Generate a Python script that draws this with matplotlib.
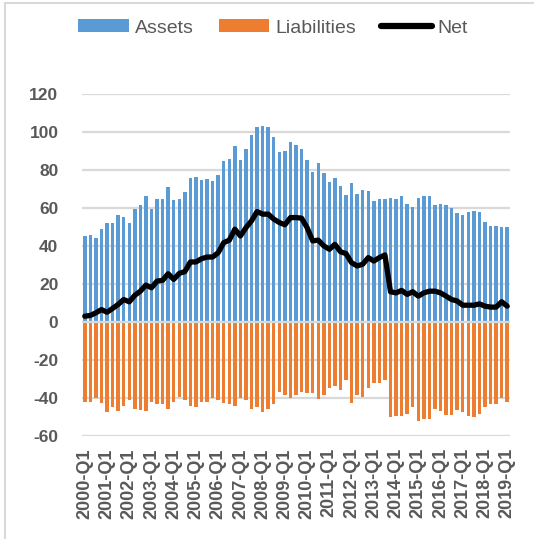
import matplotlib
matplotlib.use("Agg")
import matplotlib.pyplot as plt
from matplotlib.lines import Line2D
from matplotlib.patches import Patch
import numpy as np

# Quarterly categories, 2000-Q1 .. 2019-Q1
years = list(range(2000, 2020))
quarters = [f"{y}-Q{q}" for y in years for q in range(1, 5)][:77]

assets = [
    45.2, 45.7, 44.4, 49.2, 51.9, 51.9, 56.6, 55.4, 51.9, 59.5,
    61.6, 66.2, 59.5, 64.8, 64.8, 70.9, 64.2, 64.8, 68.3, 75.7,
    76.2, 75.0, 75.5, 74.4, 77.6, 84.7, 85.7, 92.6, 85.4, 91.4,
    98.8, 102.8, 103.5, 102.8, 97.4, 89.4, 90.0, 94.7, 93.3, 91.2,
    85.2, 79.2, 83.8, 78.3, 73.8, 75.7, 71.6, 66.9, 73.0, 67.6,
    69.7, 69.0, 63.5, 64.8, 64.8, 65.4, 64.8, 66.2, 61.9, 60.7,
    65.4, 66.2, 66.2, 61.4, 62.1, 61.4, 60.0, 57.4, 56.6, 58.0,
    58.7, 58.0, 52.6, 50.6, 50.6, 49.9, 49.9,
]

liabilities = [
    -42.1, -42.1, -40.2, -42.8, -47.6, -45.0, -46.9, -44.2, -41.4, -45.7,
    -46.2, -46.9, -42.1, -43.5, -43.5, -45.7, -42.1, -39.5, -41.4, -44.2,
    -45.0, -42.1, -42.1, -40.2, -41.4, -42.8, -43.5, -44.2, -40.2, -41.4,
    -45.7, -45.0, -47.6, -45.7, -43.5, -36.8, -38.3, -40.2, -38.8, -36.8,
    -37.5, -37.5, -40.9, -38.3, -34.7, -34.0, -36.1, -30.8, -42.8, -38.8,
    -39.5, -34.7, -32.1, -32.1, -30.8, -50.3, -49.6, -49.6, -48.3, -45.0,
    -52.2, -51.0, -51.0, -45.7, -46.9, -49.0, -49.0, -46.2, -47.6, -49.6,
    -50.3, -48.3, -45.0, -43.5, -43.5, -40.2, -42.1,
]

net = [
    3.0, 3.4, 4.8, 6.5, 5.1, 7.1, 9.2, 11.8, 10.6, 14.0,
    16.2, 19.4, 18.0, 21.5, 21.9, 25.4, 22.4, 25.6, 26.5, 31.6,
    31.6, 33.3, 34.2, 34.2, 36.5, 41.8, 43.1, 48.9, 45.3, 49.7,
    53.3, 58.2, 56.8, 56.8, 54.2, 52.4, 51.2, 55.0, 55.0, 54.7,
    49.7, 42.7, 43.1, 40.1, 38.3, 40.9, 37.0, 36.0, 31.2, 29.5,
    30.4, 33.9, 32.1, 33.9, 35.3, 15.9, 15.3, 16.6, 14.5, 15.9,
    13.6, 15.3, 16.2, 16.2, 15.3, 13.6, 11.8, 11.0, 8.8, 8.8,
    8.8, 9.5, 8.3, 7.8, 7.8, 10.6, 8.3,
]

series_names = ["Assets", "Liabilities", "Net"]
y_ticks = list(range(-60, 121, 20))

BLUE = "#5B9BD5"
ORANGE = "#ED7D31"
GRID = "#D9D9D9"
TEXT = "#595959"
FONT = "Liberation Sans"

W, H = 534, 539
fig = plt.figure(figsize=(W / 100, H / 100), dpi=100)
fig.patch.set_facecolor("white")

ax = fig.add_axes([82 / W, 1 - 435.7 / H, 428 / W, (435.7 - 94.3) / H])

x = np.arange(len(quarters))
ax.bar(x, assets, width=0.62, color=BLUE, zorder=2)
ax.bar(x, liabilities, width=0.62, color=ORANGE, zorder=2)
ax.axhline(0, color=GRID, lw=1.6, zorder=3)
ax.plot(x, net, color="black", lw=3.8, solid_joinstyle="round",
        solid_capstyle="round", zorder=4)

ax.set_xlim(-0.5, len(quarters) - 0.5)
ax.set_ylim(-60, 120)
ax.set_yticks(y_ticks)
ax.set_yticklabels([str(v) for v in y_ticks])
ax.yaxis.grid(True, color=GRID, lw=1.6, zorder=0)
ax.set_axisbelow(True)

tick_idx = x[::4]
ax.set_xticks(tick_idx)
ax.set_xticklabels([quarters[i] for i in tick_idx], rotation=90)

for s in ax.spines.values():
    s.set_visible(False)

ax.tick_params(axis="y", length=0, pad=17, labelsize=12.5, labelcolor=TEXT)
ax.tick_params(axis="x", length=0, pad=9, labelsize=13, labelcolor=TEXT)
for lbl in ax.get_xticklabels() + ax.get_yticklabels():
    lbl.set_fontfamily(FONT)
    lbl.set_fontweight("bold")

handles = [
    Patch(facecolor=BLUE, edgecolor="none"),
    Patch(facecolor=ORANGE, edgecolor="none"),
    Line2D([], [], color="black", lw=4.5, solid_capstyle="round"),
]
leg = fig.legend(handles, series_names, ncol=3, loc="center",
                 bbox_to_anchor=(273 / W, 1 - 28 / H), frameon=False,
                 prop={"family": FONT, "size": 14},
                 handlelength=2.6, handleheight=0.62, handletextpad=0.3,
                 columnspacing=1.3, borderpad=0, borderaxespad=0)
for t in leg.get_texts():
    t.set_color(TEXT)

# thin outer frame on the left and top edges
fig.add_artist(Line2D([5.5 / W, 5.5 / W], [0, 1 - 3 / H], color=GRID, lw=1.5,
                      transform=fig.transFigure))
fig.add_artist(Line2D([5.5 / W, 1], [1 - 3 / H, 1 - 3 / H], color=GRID, lw=1.5,
                      transform=fig.transFigure))

fig.savefig("out.png", dpi=100, facecolor="white")
